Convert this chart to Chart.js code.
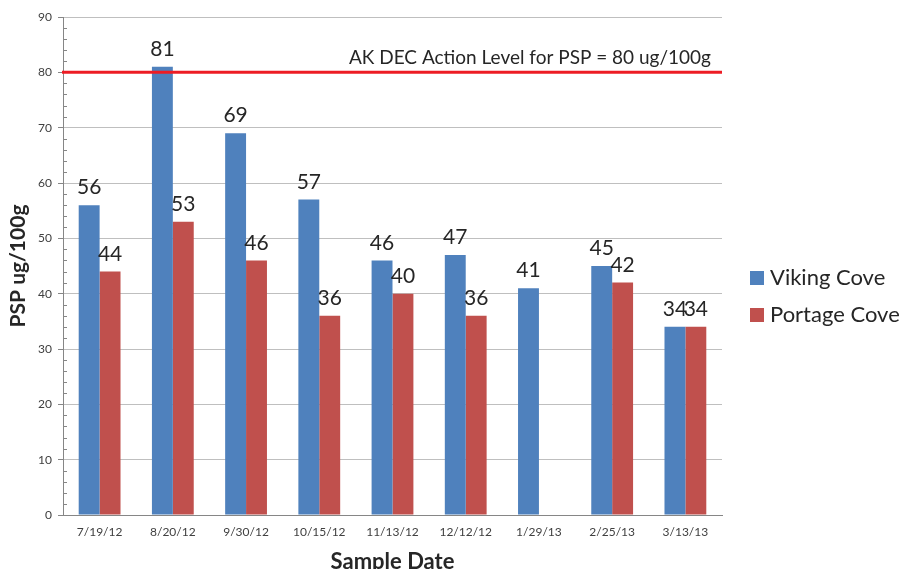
<!DOCTYPE html>
<html><head><meta charset="utf-8">
<script src="https://cdn.jsdelivr.net/npm/chart.js@4/dist/chart.umd.min.js"></script>
<style>html,body{margin:0;padding:0;background:#fff}#wrap{width:903px;height:569px}</style>
</head><body><div id="wrap"><canvas id="c" width="903" height="569"></canvas></div>
<script>
const categories = ['7/19/12','8/20/12','9/30/12','10/15/12','11/13/12','12/12/12','1/29/13','2/25/13','3/13/13'];
const vikingCove = [56, 81, 69, 57, 46, 47, 41, 45, 34];
const portageCove = [44, 53, 46, 36, 40, 36, null, 42, 34];
const actionLevel = 80;
const actionLabel = 'AK DEC Action Level for PSP = 80 ug/100g';
const yTitle = 'PSP ug/100g';
const xTitle = 'Sample Date';

const FONT = 'Lato, "Open Sans", sans-serif';
const TXT = '#262626';

const extras = {
  id: 'extras',
  afterDatasetsDraw(chart) {
    const ctx = chart.ctx, y = chart.scales.y, a = chart.chartArea;
    // minor ticks
    ctx.save();
    ctx.strokeStyle = '#868686'; ctx.lineWidth = 1;
    for (let v = 0; v <= 90; v += 2) {
      if (v % 10 === 0) continue;
      const py = Math.round(y.getPixelForValue(v)) + 0.5;
      ctx.beginPath(); ctx.moveTo(a.left, py); ctx.lineTo(a.left + 4, py); ctx.stroke();
    }
    // data labels
    ctx.fillStyle = TXT; ctx.font = '21px ' + FONT; ctx.textAlign = 'center'; ctx.textBaseline = 'bottom';
    chart.data.datasets.forEach((ds, i) => {
      const meta = chart.getDatasetMeta(i);
      meta.data.forEach((bar, j) => {
        const v = ds.data[j];
        if (v === null || v === undefined) return;
        ctx.fillText(String(v), bar.x, bar.y - 7);
      });
    });
    // action level line
    const ly = y.getPixelForValue(actionLevel);
    ctx.strokeStyle = '#ED1C24'; ctx.lineWidth = 3;
    ctx.beginPath(); ctx.moveTo(a.left - 1, ly); ctx.lineTo(a.right, ly); ctx.stroke();
    ctx.font = '19px ' + FONT; ctx.textAlign = 'right'; ctx.textBaseline = 'alphabetic'; ctx.fillStyle = TXT;
    ctx.fillText(actionLabel, a.right - 11, ly - 8);
    // legend
    ctx.font = '22px ' + FONT; ctx.textAlign = 'left'; ctx.textBaseline = 'middle';
    chart.data.datasets.forEach((ds, i) => {
      const cy = 278 + i * 37;
      ctx.fillStyle = ds.backgroundColor;
      ctx.fillRect(750, cy - 7, 14, 14);
      ctx.fillStyle = TXT;
      ctx.fillText(ds.label, 770, cy);
    });
    ctx.restore();
  }
};

new Chart(document.getElementById('c'), {
  type: 'bar',
  data: {
    labels: categories,
    datasets: [
      { label: 'Viking Cove', data: vikingCove, backgroundColor: '#4F81BD', categoryPercentage: 0.571, barPercentage: 1.0 },
      { label: 'Portage Cove', data: portageCove, backgroundColor: '#C0504D', categoryPercentage: 0.571, barPercentage: 1.0 }
    ]
  },
  options: {
    responsive: false, animation: false, devicePixelRatio: 1,
    layout: { padding: { left: 0, top: 17, right: 181, bottom: 0 } },
    plugins: { legend: { display: false }, tooltip: { enabled: false } },
    scales: {
      x: {
        grid: { display: false, drawTicks: false },
        border: { color: '#868686', width: 1 },
        ticks: { color: '#404040', font: { family: FONT, size: 12 }, padding: 10, maxRotation: 0 },
        title: { display: true, text: xTitle, color: TXT, font: { family: FONT, size: 22, weight: 'bold' }, padding: { top: 9, bottom: -6 } },
        afterFit(s) { s.height = 54; }
      },
      y: {
        min: 0, max: 90,
        ticks: { stepSize: 10, color: '#404040', font: { family: FONT, size: 12 }, padding: 6 },
        grid: { color: '#BFBFBF', tickColor: '#868686', tickLength: 5 },
        border: { color: '#868686', width: 1 },
        title: { display: true, text: yTitle, color: TXT, font: { family: FONT, size: 21, weight: 'bold' }, padding: { top: 6, bottom: 4 } },
        afterFit(s) { s.width = 63; }
      }
    }
  },
  plugins: [extras]
});
</script></body></html>
